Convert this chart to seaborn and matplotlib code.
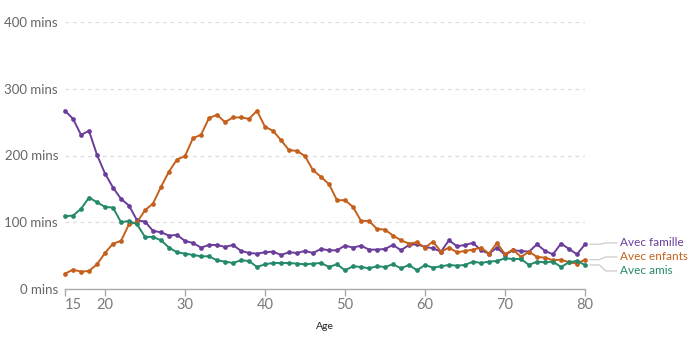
import matplotlib
matplotlib.use("Agg")
import matplotlib.pyplot as plt
import matplotlib.transforms as mtransforms
import seaborn as sns
import pandas as pd

ages = list(range(15, 81))
famille = [267, 255, 231, 237, 201, 173, 152, 135, 125, 103,
           101, 87, 85, 80, 81, 72, 69, 62, 66, 66,
           63, 66, 57, 54, 53, 55, 56, 51, 55, 54,
           57, 54, 60, 58, 58, 65, 62, 65, 59, 59,
           60, 66, 58, 66, 67, 63, 61, 56, 73, 64,
           66, 69, 58, 53, 62, 51, 58, 57, 56, 67,
           57, 52, 68, 60, 52, 67]
enfants = [23, 29, 26, 27, 37, 54, 68, 72, 97, 100,
           118, 128, 153, 176, 194, 199, 226, 231, 256, 261,
           250, 257, 257, 255, 267, 243, 237, 223, 208, 207,
           199, 178, 168, 157, 133, 133, 123, 102, 102, 90,
           89, 80, 73, 68, 70, 62, 71, 56, 62, 55,
           57, 59, 62, 53, 69, 52, 59, 48, 56, 48,
           47, 43, 44, 40, 38, 44]
amis = [109, 110, 120, 137, 130, 123, 122, 100, 102, 97,
        78, 78, 73, 62, 55, 53, 51, 49, 49, 43,
        41, 39, 43, 42, 33, 37, 39, 39, 39, 38,
        37, 38, 39, 33, 37, 28, 34, 33, 31, 34,
        33, 37, 31, 36, 28, 36, 32, 34, 36, 35,
        36, 41, 39, 41, 42, 46, 45, 45, 36, 41,
        40, 41, 33, 40, 42, 36]
series_names = ["Avec famille", "Avec enfants", "Avec amis"]
y_ticks = [0, 100, 200, 300, 400]
x_ticks = [15, 20, 30, 40, 50, 60, 70, 80]

colors = {"Avec famille": "#6a3d9a", "Avec enfants": "#c4601c", "Avec amis": "#23896a"}

df = pd.concat([
    pd.DataFrame({"Age": ages, "mins": vals, "serie": name})
    for name, vals in zip(series_names, [famille, enfants, amis])
])

sns.set_theme(style="white")
plt.rcParams["font.family"] = ["Lato", "DejaVu Sans"]

fig = plt.figure(figsize=(6.98, 3.40), dpi=100)
ax = fig.add_axes([65 / 698, 1 - 289 / 340, 520 / 698, 267 / 340])

sns.lineplot(data=df, x="Age", y="mins", hue="serie", hue_order=series_names,
             palette=colors, marker="o", markersize=3.4, markeredgewidth=0,
             linewidth=1.4, legend=False, ax=ax)
for ln in ax.lines:
    ln.set_clip_on(False)

ax.set_xlim(15, 80)
ax.set_ylim(0, 400)
ax.set_xticks(x_ticks)
ax.set_yticks(y_ticks)
ax.set_yticklabels([f"{v} mins" for v in y_ticks])
ax.tick_params(axis="x", colors="#aaaaaa", labelcolor="#7a7a7a", labelsize=10.5,
               length=5, width=1, direction="out", pad=1.5, bottom=True)
ax.tick_params(axis="y", labelcolor="#666666", labelsize=9.5, length=0, pad=5)
for s in ["top", "right", "left"]:
    ax.spines[s].set_visible(False)
ax.spines["bottom"].set_color("#aaaaaa")
ax.spines["bottom"].set_linewidth(1)
ax.grid(axis="y", color="#dddddd", linestyle=(0, (3, 3)), linewidth=0.9)
ax.grid(axis="x", visible=False)
ax.set_axisbelow(True)
ax.set_xlabel("Age", fontsize=7.5, color="#222222", labelpad=7)
ax.set_ylabel("")

# nudge the first x tick label right, as in the reference
first = ax.get_xticklabels()[0]
first.set_transform(first.get_transform() +
                    mtransforms.ScaledTranslation(8 / 100, 0, fig.dpi_scale_trans))

# right-side labels with connectors
label_y = [69, 48, 27]
ends = [famille[-1], enfants[-1], amis[-1]]
for name, ye, yl in zip(series_names, ends, label_y):
    ax.plot([80.6, 81.8, 82.6, 84.0], [ye, ye, yl, yl], color="#cccccc",
            linewidth=0.9, clip_on=False)
    ax.text(84.4, yl, name, color=colors[name], fontsize=8.5, va="center",
            ha="left", clip_on=False)

fig.savefig("out.png", dpi=100)
